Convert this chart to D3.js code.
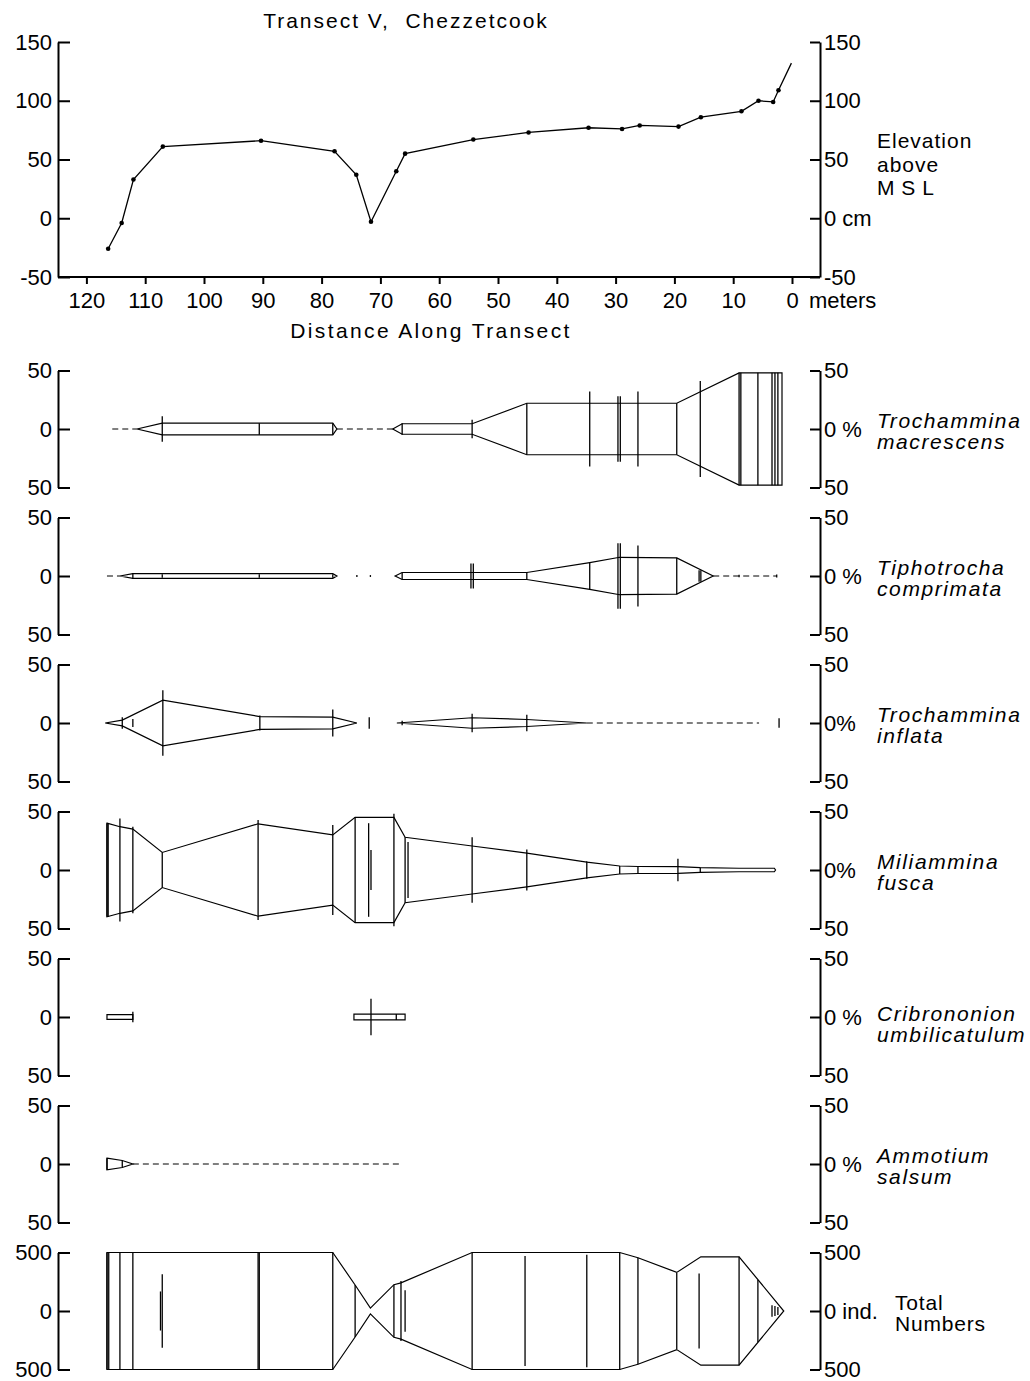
<!DOCTYPE html>
<html><head><meta charset="utf-8">
<script src="https://cdn.jsdelivr.net/npm/d3@7"></script>
<style>body{margin:0;background:#fff}</style>
</head><body><svg id="c" width="1030" height="1381" xmlns="http://www.w3.org/2000/svg"></svg>
<script>
// ---------------- DATA ----------------
const xTicks = [120,110,100,90,80,70,60,50,40,30,20,10,0];
const elevTicks = [150,100,50,0,-50];
// elevation profile (distance m, elevation cm above MSL); last point is line end without marker
const elevDist = [116.3,114.0,112.0,107.0,90.3,77.8,74.1,71.6,67.3,65.8,54.2,44.8,34.6,28.9,25.9,19.3,15.5,8.6,5.7,3.2,2.3,0.1];
const elevCm   = [-26,-4,33,61,66,57,37,-3,40,55,67,73,77,76,79,78,86,91,100,99,109,132];

// kite outlines: [distance, half-width %]
const macrescensKites = [
  [[111.4,0],[107.1,5],[78.1,5],[77.4,0]],
  [[67.9,0],[66.3,4.5],[54.4,4.5],[45.1,22],[19.6,22],[9.0,48],[1.7,48]]
];
const macrescensDashes = [[115.6,111.4],[77.4,67.9]];
const macrescensMarks = [[107.1,11],[90.6,5],[78.1,5],[66.3,5],[54.4,8],[45.1,22],[34.4,32],[29.6,28],[29.2,28],[26.2,32],[19.6,22],[15.6,41],[9.0,48],[8.7,48],[5.8,48],[3.4,48],[2.9,48],[2.4,48]];

const comprimataKites = [
  [[114.3,0],[112.1,2],[78.1,2],[77.4,0]],
  [[67.5,0],[66.3,3],[45.1,3],[34.4,11.5],[29.3,16],[19.6,15.5],[13.4,0]]
];
const comprimataDashes = [[116.5,114.3],[13.4,2.6]];
const comprimataMarks = [[112.1,2.5],[107.1,1.5],[90.6,1.5],[78.1,1.5],[74.0,0.8],[71.7,0.8],[66.3,3],[54.6,10.7],[54.2,10.7],[45.1,3],[34.4,11.5],[29.6,28],[29.2,28],[26.2,26],[19.6,15.5],[15.8,5],[15.5,5],[9.0,1],[2.6,1.2]];

const inflataKites = [
  [[116.8,0],[113.9,2.5],[107.0,19.5],[90.5,5.5],[78.1,5],[74.0,0]],
  [[67.2,0],[54.4,4.5],[45.1,3],[34.9,0]]
];
const inflataDashes = [[34.9,5.6]];
const inflataMarks = [[113.9,5],[112.1,3.5],[107.0,28],[90.5,6.5],[78.1,11.5],[71.9,5],[66.3,2],[54.4,8],[45.1,7],[2.2,4]];

const fuscaKites = [
  [[116.5,40],[114.3,37],[112.1,35],[107.1,15],[90.8,39.5],[78.1,30],[74.3,45],[67.7,45],[65.8,28],[54.4,20.5],[45.1,14.5],[34.9,6.8],[29.3,3.4],[26.2,3],[19.4,2.8],[15.6,2],[9.0,1.5],[3.0,1.5],[2.8,0]]
];
const fuscaDashes = [];
const fuscaMarks = [[116.5,40],[116.3,40],[114.3,44],[112.1,37],[107.1,15],[90.8,42.7],[78.1,38.5],[74.3,45],[72.0,40],[71.6,17],[67.7,48],[65.8,28],[65.3,24],[54.4,28],[45.1,17.5],[34.9,7.5],[29.3,3.4],[26.2,3],[19.4,9.7],[15.6,2]];

const cribrononionKites = [[[116.5,2],[112.1,2]],[[74.5,2.5],[65.8,2.5]]];
const cribrononionDashes = [];
const cribrononionMarks = [[112.1,4.5],[71.6,15.7],[67.3,2.5]];

const salsumKites = [[[116.5,5],[113.9,3],[112.1,0]]];
const salsumDashes = [[112.1,66.3]];
const salsumMarks = [[116.5,5],[113.9,3]];

// total numbers: [distance, half-width individuals]
const totalKites = [[[116.5,500],[78.1,500],[74.3,222],[71.7,25],[67.7,225],[66.5,240],[54.4,500],[29.3,500],[26.2,455],[19.6,330],[15.5,463],[9.0,463],[1.4,0]]];
const totalDashes = [];
const totalMarks = [[116.5,500],[116.2,500],[114.3,500],[112.1,500],[107.4,167],[107.1,314],[90.8,500],[90.6,500],[78.1,500],[74.3,222],[67.7,225],[66.5,256],[65.8,178],[54.4,500],[45.4,470],[34.9,480],[29.3,500],[26.2,455],[19.6,325],[15.8,320],[9.0,463],[5.8,265],[3.4,50],[2.9,43],[2.4,35]];

const panelLabels = [["Trochammina","macrescens"],["Tiphotrocha","comprimata"],["Trochammina","inflata"],["Miliammina","fusca"],["Cribrononion","umbilicatulum"],["Ammotium","salsum"],["Total","Numbers"]];
const zeroLabels = ["0 %","0 %","0%","0%","0 %","0 %","0 ind."];
const panelMax = [50,50,50,50,50,50,500];

// ---------------- DRAW ----------------
const FONT = "'Liberation Sans', Arial, sans-serif";
const svg = d3.select("#c");
svg.append("rect").attr("width",1030).attr("height",1381).attr("fill","#fff");

const x = d3.scaleLinear().domain([0,120]).range([792, 86.4]);
const yE = d3.scaleLinear().domain([-50,150]).range([277, 42]);
const fmt = d => String(d);

function styleAxis(g){
  g.attr("font-family", FONT).attr("font-size", 22);
  g.selectAll("path,line").attr("stroke","#000").attr("stroke-width",2);
  g.selectAll("text").attr("fill","#000");
}

// title
svg.append("text").attr("x",406).attr("y",28).attr("text-anchor","middle")
  .attr("font-family",FONT).attr("font-size",21).attr("letter-spacing",2)
  .style("white-space","pre").text("Transect V,  Chezzetcook");

// elevation axes
svg.append("g").attr("transform","translate(58,0)")
  .call(d3.axisLeft(yE).tickValues(elevTicks).tickSize(-12).tickSizeOuter(0).tickPadding(6).tickFormat(fmt))
  .call(styleAxis);
svg.append("g").attr("transform","translate(820,0)")
  .call(d3.axisRight(yE).tickValues(elevTicks).tickSize(-10).tickSizeOuter(0).tickPadding(4)
    .tickFormat(d => d === 0 ? "0 cm" : String(d)))
  .call(styleAxis);
const xg = svg.append("g").attr("transform","translate(0,277)")
  .call(d3.axisBottom(x).tickValues(xTicks).tickSize(7).tickPadding(8).tickFormat(fmt))
  .call(styleAxis);
xg.select(".domain").remove();
svg.append("line").attr("x1",58).attr("x2",820).attr("y1",277).attr("y2",277)
  .attr("stroke","#000").attr("stroke-width",2);
svg.append("text").attr("x",809).attr("y",308).attr("font-family",FONT).attr("font-size",22).text("meters");
svg.append("text").attr("x",431).attr("y",338).attr("text-anchor","middle")
  .attr("font-family",FONT).attr("font-size",21).attr("letter-spacing",2.4).text("Distance Along Transect");
["Elevation","above","M S L"].forEach((t,i) => {
  svg.append("text").attr("x",877).attr("y",148 + i*23.5).attr("font-family",FONT).attr("font-size",21)
    .attr("letter-spacing", i < 2 ? 1 : 0.5).text(t);
});

// elevation line
const idx = d3.range(elevDist.length);
svg.append("path").attr("d", d3.line().x(i => x(elevDist[i])).y(i => yE(elevCm[i]))(idx))
  .attr("fill","none").attr("stroke","#000").attr("stroke-width",1.3);
svg.selectAll("circle.pt").data(idx.slice(0, -1)).join("circle").attr("class","pt")
  .attr("cx", i => x(elevDist[i])).attr("cy", i => yE(elevCm[i])).attr("r",2.3).attr("fill","#000");

// species panels
const panels = [
  [macrescensKites, macrescensDashes, macrescensMarks],
  [comprimataKites, comprimataDashes, comprimataMarks],
  [inflataKites, inflataDashes, inflataMarks],
  [fuscaKites, fuscaDashes, fuscaMarks],
  [cribrononionKites, cribrononionDashes, cribrononionMarks],
  [salsumKites, salsumDashes, salsumMarks],
  [totalKites, totalDashes, totalMarks]
];
const line = d3.line();
panels.forEach((p, i) => {
  const c = 429 + i*147;
  const m = panelMax[i];
  const yP = d3.scaleLinear().domain([-m, m]).range([c + 58.5, c - 58.5]);
  const g = svg.append("g");
  g.append("g").attr("transform","translate(58,0)")
    .call(d3.axisLeft(yP).tickValues([-m,0,m]).tickSize(-12).tickSizeOuter(0).tickPadding(6).tickFormat(d => String(Math.abs(d))))
    .call(styleAxis);
  g.append("g").attr("transform","translate(820,0)")
    .call(d3.axisRight(yP).tickValues([-m,0,m]).tickSize(-10).tickSizeOuter(0).tickPadding(4)
      .tickFormat(d => d === 0 ? zeroLabels[i] : String(Math.abs(d))))
    .call(styleAxis);
  const [kites, dashes, marks] = p;
  kites.forEach(seg => {
    const top = seg.map(q => [x(q[0]), yP(q[1])]);
    const bot = seg.slice().reverse().map(q => [x(q[0]), yP(-q[1])]);
    g.append("path").attr("d", line(top.concat(bot)) + "Z")
      .attr("fill","none").attr("stroke","#000").attr("stroke-width",1.2).attr("stroke-linejoin","miter");
  });
  dashes.forEach(dd => {
    g.append("line").attr("x1", x(dd[0])).attr("x2", x(dd[1])).attr("y1", yP(0)).attr("y2", yP(0))
      .attr("stroke","#000").attr("stroke-width",1).attr("stroke-dasharray","6,4");
  });
  marks.forEach(mk => {
    g.append("line").attr("x1", x(mk[0])).attr("x2", x(mk[0])).attr("y1", yP(-mk[1])).attr("y2", yP(mk[1]))
      .attr("stroke","#000").attr("stroke-width",1.3);
  });
  const lab = panelLabels[i];
  const italic = i < 6;
  const shift = i === 4 ? 5 : 0;
  const lx = italic ? 877 : 895;
  lab.forEach((t, k) => {
    g.append("text").attr("x", lx).attr("y", c - 1 + shift + k*21)
      .attr("font-family", FONT).attr("font-size", 21)
      .attr("font-style", italic ? "italic" : "normal").attr("letter-spacing", italic ? 1.6 : 0.8).text(t);
  });
});
</script>
</body></html>
